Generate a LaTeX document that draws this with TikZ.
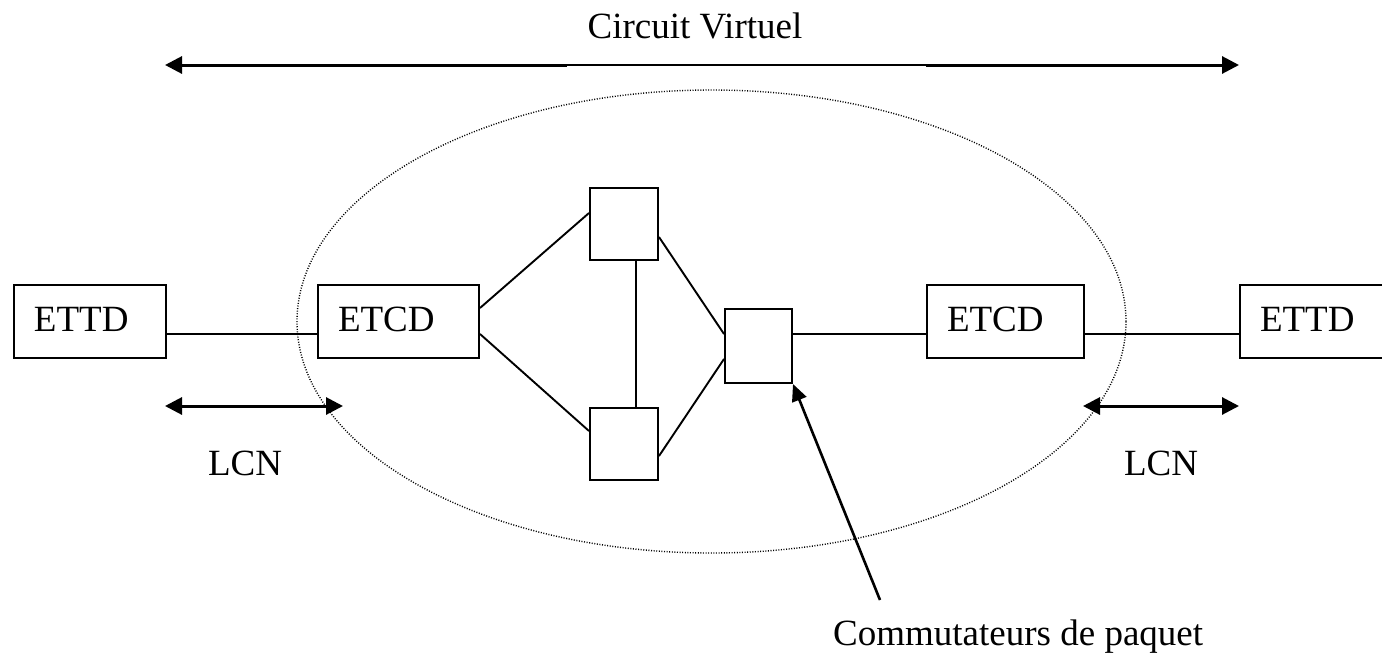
\documentclass[tikz,border=0pt]{standalone}
\usepackage{fontspec}
\setmainfont{Liberation Serif}
\usetikzlibrary{arrows.meta}
\begin{document}
\begin{tikzpicture}[x=1pt,y=-1pt,
  every node/.style={font=\fontsize{37}{40}\selectfont},
  box/.style={draw,line width=2pt,rectangle,anchor=north west,inner sep=0pt,
              text height=19pt,text depth=0pt},
  labelbox/.style={box,inner xsep=20pt,align=left},
  switch/.style={box,text height=0pt},
  link/.style={line width=1.9pt},
  thinlink/.style={line width=1.5pt},
  span/.style={line width=3pt,-{Triangle[length=17pt,width=17pt]}},
  spanboth/.style={line width=3pt,{Triangle[length=17pt,width=17pt]}-{Triangle[length=17pt,width=17pt]}},
  pointer/.style={line width=2.6pt,-{Triangle[length=17pt,width=15pt]}},
  cloud/.style={line width=1.4pt,dash pattern=on 1pt off 1.6pt}]

\clip (0,0) rectangle (1382,654);

% network cloud
\draw[cloud] (711.5,321.5) ellipse [x radius=414.5, y radius=231.5];

% end stations and access equipment
\node[labelbox,minimum width=152pt,minimum height=73pt,text width=112pt] (ettdL) at (13,284) {ETTD};
\node[labelbox,minimum width=161pt,minimum height=73pt,text width=121pt] (etcdL) at (317,284) {ETCD};
\node[labelbox,minimum width=157pt,minimum height=73pt,text width=117pt] (etcdR) at (926,284) {ETCD};
\node[labelbox,minimum width=152pt,minimum height=73pt,text width=112pt] (ettdR) at (1239,284) {ETTD};

% packet switches
\node[switch,minimum width=68pt,minimum height=72pt] (swT) at (589,187) {};
\node[switch,minimum width=68pt,minimum height=72pt] (swB) at (589,407) {};
\node[switch,minimum width=67pt,minimum height=74pt] (swR) at (724,308) {};

% links
\draw[link] ([yshift=-12.5pt]ettdL.east) -- ([yshift=-12.5pt]etcdL.west);
\draw[link] ([yshift=13.5pt]etcdL.east) -- ([yshift=11pt]swT.west);
\draw[link] ([yshift=-12.5pt]etcdL.east) -- ([yshift=13pt]swB.west);
\draw[link] ([xshift=12pt]swT.south) -- ([xshift=12pt]swB.north);
\draw[link] ([yshift=-13pt]swT.east) -- ([yshift=12pt]swR.west);
\draw[link] ([yshift=-12pt]swB.east) -- ([yshift=-13pt]swR.west);
\draw[link] ([yshift=12pt]swR.east) -- ([yshift=-12.5pt]etcdR.west);
\draw[link] ([yshift=-12.5pt]etcdR.east) -- ([yshift=-12.5pt]ettdR.west);

% virtual circuit span
\coordinate (vcL) at (165,65);
\coordinate (vcLm) at (567,65);
\coordinate (vcRm) at (926,65);
\coordinate (vcR) at (1239,65);
\draw[span] (vcLm) -- (vcL);
\draw[thinlink] (vcLm) -- (vcRm);
\draw[span] (vcRm) -- (vcR);
\node[anchor=base] (vc) at (695,38) {Circuit Virtuel};

% logical channel spans
\coordinate (lcnLa) at (165,406);
\coordinate (lcnLb) at (343,406);
\coordinate (lcnRa) at (1083,406);
\coordinate (lcnRb) at (1239,406);
\draw[spanboth] (lcnLa) -- (lcnLb);
\draw[spanboth] (lcnRa) -- (lcnRb);
\node[anchor=base] (lcnL) at (245,475) {LCN};
\node[anchor=base] (lcnR) at (1161,475) {LCN};

% switch caption
\coordinate (capTail) at (880,600);
\draw[pointer] (capTail) -- (swR.south east);
\node[anchor=base west,inner sep=0pt] (cap) at (833,645) {Commutateurs de paquet};
\end{tikzpicture}
\end{document}
